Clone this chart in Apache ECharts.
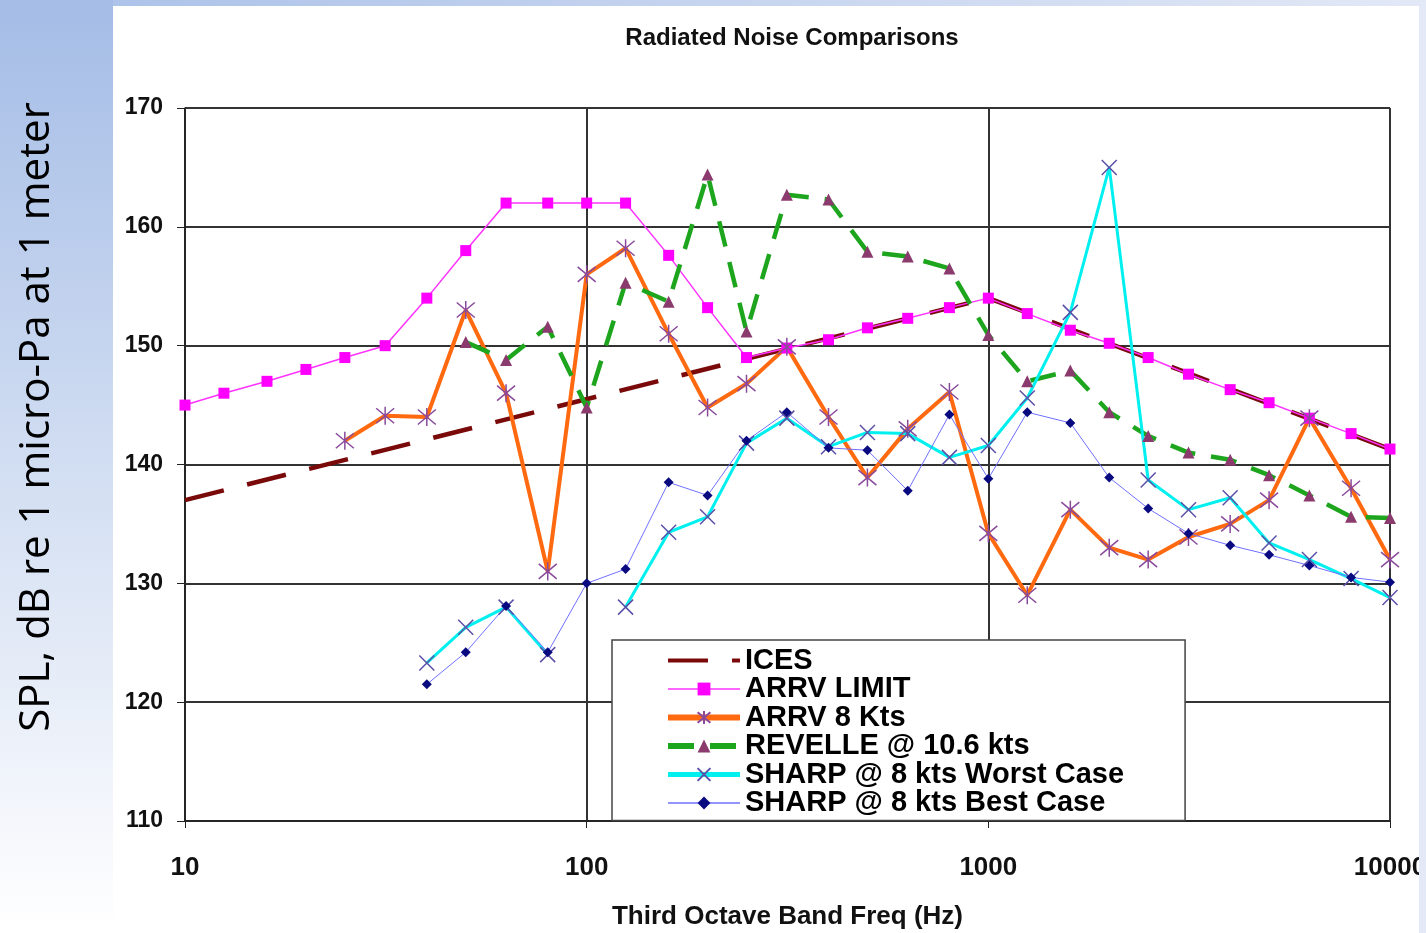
<!DOCTYPE html>
<html lang="en">
<head>
  <meta charset="UTF-8">
  <title>chart</title>
  <style>
    body { margin: 0; }
    #main {
      width: 1426px; height: 933px;
      background:
        linear-gradient(#fff, #fff) 113px 6px / 1306px 927px no-repeat,
        linear-gradient(to bottom, #a4bce6 0%, #d6e1f3 55%, #f6f8fc 90%, #fff 100%) 0 0 / 113px 933px no-repeat,
        linear-gradient(to right, #a9c0e8, #e2e8f6);
    }
  </style>
</head>
<body>
<div id="main"></div>
<script src="https://cdn.jsdelivr.net/npm/echarts@6/dist/echarts.min.js"></script>
<script>
// third octave band centres (Hz)
var freq = [10, 12.5, 16, 20, 25, 31.5, 40, 50, 63, 80, 100, 125, 160, 200, 250, 315, 400, 500, 630, 800,
            1000, 1250, 1600, 2000, 2500, 3150, 4000, 5000, 6300, 8000, 10000];

var icesFreq = [10, 1000, 10000];
var ices = [137, 154, 141.3];

var arrvLimit = [145, 146, 147, 148, 149, 150, 154, 158, 162, 162, 162, 162, 157.6, 153.2, 149, 149.8, 150.5, 151.5, 152.3, 153.2,
                 154, 152.7, 151.3, 150.2, 149, 147.6, 146.3, 145.2, 143.9, 142.6, 141.3];
var arrv8 = [null, null, null, null, 142, 144.1, 144, 153, 146, 131, 156, 158.2, 151, 144.8, 146.8, 149.9, 144, 138.9, 143, 146.1,
             134.2, 129, 136.2, 133, 132, 133.9, 135, 137, 143.9, 138, 132];
var revelle = [null, null, null, null, null, null, null, 150.3, 148.8, 151.6, 144.8, 155.3, 153.7, 164.4, 151.2, 162.7, 162.3, 157.9, 157.5, 156.5,
               150.9, 147, 147.9, 144.4, 142.4, 141, 140.4, 139.1, 137.4, 135.6, 135.5];
var sharpWorst = [null, null, null, null, null, null, 123.3, 126.3, 128, 124, null, 128, 134.3, 135.6, 141.8, 143.9, 141.5, 142.7, 142.6, 140.6,
                  141.6, 145.6, 152.8, 165, 138.7, 136.2, 137.2, 133.4, 132, 130.4, 128.8];
var sharpBest = [null, null, null, null, null, null, 121.5, 124.2, 128.1, 124.2, 130, 131.2, 138.5, 137.4, 142, 144.4, 141.4, 141.2, 137.8, 144.2,
                 138.8, 144.4, 143.5, 138.9, 136.3, 134.2, 133.2, 132.4, 131.5, 130.5, 130.1];

var yTicks = [110, 120, 130, 140, 150, 160, 170];

function pairs(xs, ys) {
  return xs.map(function (f, i) { return [f, ys[i] == null ? '-' : ys[i]]; });
}

var STAR = 'path://M0,0L10,10M10,0L0,10M5,-1L5,11';
var CROSS = 'path://M0,0L10,10M10,0L0,10';
var FONT = 'Liberation Sans, Arial, sans-serif';

var myChart = echarts.init(document.getElementById('main'));
myChart.setOption({
  animation: false,
  title: {
    text: 'Radiated Noise Comparisons',
    left: 787, top: 21, textAlign: 'center',
    textStyle: { fontFamily: FONT, fontSize: 24, fontWeight: 'bold', color: '#111' }
  },
  grid: { left: 185, right: 36, top: 108, bottom: 112, containLabel: false, outerBoundsMode: 'none' },
  legend: {
    orient: 'vertical', left: 612, top: 640,
    backgroundColor: '#fff', borderColor: '#444', borderWidth: 1.5, borderRadius: 0,
    padding: [6, 61, 3, 53],
    itemWidth: 72, itemHeight: 16, itemGap: -0.5,
    textStyle: { fontFamily: FONT, fontSize: 29, fontWeight: 'bold', color: '#000' },
    data: [
      { name: 'ICES', itemStyle: { color: 'rgba(0,0,0,0)', borderWidth: 0 }, lineStyle: { width: 4 } },
      { name: 'ARRV LIMIT', lineStyle: { width: 1.5 } },
      { name: 'ARRV 8 Kts', lineStyle: { width: 6 } },
      { name: 'REVELLE @ 10.6 kts', lineStyle: { width: 6 } },
      { name: 'SHARP @ 8 kts Worst Case', lineStyle: { width: 5 } },
      { name: 'SHARP @ 8 kts Best Case', lineStyle: { width: 1.5 } }
    ]
  },
  xAxis: {
    type: 'log', logBase: 10, min: 10, max: 10000,
    name: 'Third Octave Band Freq (Hz)', nameLocation: 'middle', nameGap: 83,
    nameTextStyle: { fontFamily: FONT, fontSize: 26, fontWeight: 'bold', color: '#111' },
    axisLine: { lineStyle: { color: '#222', width: 1.5 } },
    axisTick: { show: true, length: 7, lineStyle: { color: '#222' } },
    minorTick: { show: false },
    axisLabel: {
      margin: 34, fontFamily: FONT, fontSize: 26, fontWeight: 'bold', color: '#111',
      formatter: function (v) { return String(v); }
    },
    splitLine: { show: true, lineStyle: { color: '#333', width: 2 } }
  },
  yAxis: {
    type: 'value', min: yTicks[0], max: yTicks[yTicks.length - 1], interval: 10,
    axisLine: { show: true, lineStyle: { color: '#222', width: 1.5 } },
    axisTick: { show: true, length: 8, lineStyle: { color: '#222' } },
    axisLabel: { margin: 22, fontFamily: FONT, fontSize: 23, fontWeight: 'bold', color: '#111' },
    splitLine: { show: true, lineStyle: { color: '#333', width: 2 } }
  },
  graphic: [
    {
      type: 'text', x: 37, y: 417, rotation: Math.PI / 2,
      style: {
        text: 'SPL, dB re 1 micro-Pa at 1 meter',
        font: '42px "Open Sans", sans-serif', fill: '#000',
        align: 'center', verticalAlign: 'middle'
      }
    },
    {
      type: 'rect', x: 1419, y: 0, z: 100,
      shape: { width: 7, height: 933 },
      style: { fill: '#e3e9f6' }
    }
  ],
  series: [
    {
      name: 'ICES', type: 'line', data: pairs(icesFreq, ices),
      symbol: 'none',
      itemStyle: { color: '#7a0a0a' },
      lineStyle: { color: '#7a0a0a', width: 4.5, type: [40, 24] }
    },
    {
      name: 'ARRV LIMIT', type: 'line', data: pairs(freq, arrvLimit),
      symbol: 'rect', symbolSize: 11,
      itemStyle: { color: '#ff00ff' },
      lineStyle: { color: '#ff33ff', width: 1.5 }
    },
    {
      name: 'ARRV 8 Kts', type: 'line', data: pairs(freq, arrv8),
      symbol: STAR, symbolSize: 18,
      itemStyle: { color: '#8a4a9c', borderColor: '#8a4a9c', borderWidth: 1.5 },
      lineStyle: { color: '#ff6a10', width: 4 }
    },
    {
      name: 'REVELLE @ 10.6 kts', type: 'line', data: pairs(freq, revelle),
      symbol: 'triangle', symbolSize: 12,
      itemStyle: { color: '#8b3a6e' },
      lineStyle: { color: '#1ea51e', width: 4.5, type: [26, 16] }
    },
    {
      name: 'SHARP @ 8 kts Worst Case', type: 'line', data: pairs(freq, sharpWorst),
      symbol: CROSS, symbolSize: 15, connectNulls: false,
      itemStyle: { color: '#5a50a8', borderColor: '#5a50a8', borderWidth: 1.5 },
      lineStyle: { color: '#00f0f0', width: 3 }
    },
    {
      name: 'SHARP @ 8 kts Best Case', type: 'line', data: pairs(freq, sharpBest),
      symbol: 'diamond', symbolSize: 10,
      itemStyle: { color: '#0a0a80' },
      lineStyle: { color: '#7070ff', width: 1 }
    }
  ]
});
</script>
</body>
</html>
